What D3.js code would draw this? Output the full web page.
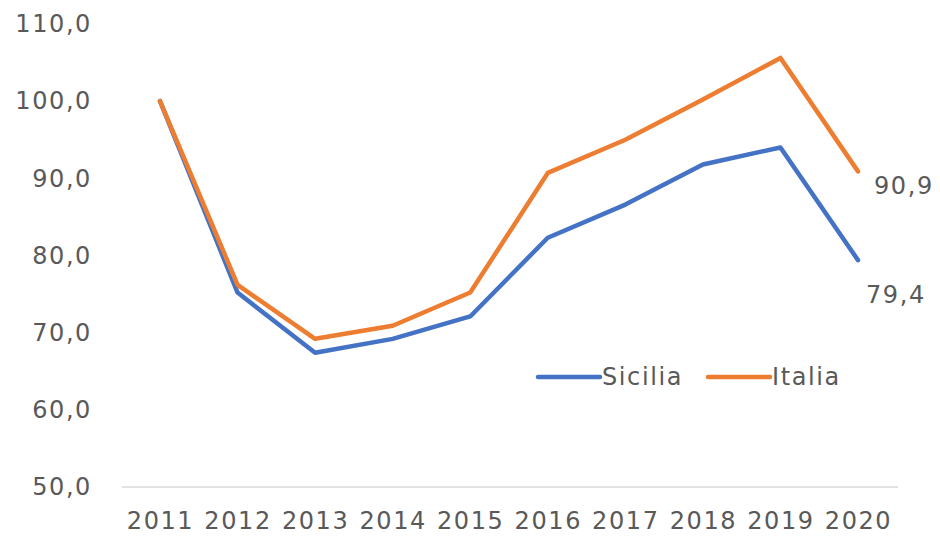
<!DOCTYPE html>
<html>
<head>
<meta charset="utf-8">
<script src="https://cdn.jsdelivr.net/npm/d3@7"></script>
<style>
  body { margin: 0; background: #fff; }
  .axis-label, .legend-label, .end-label {
    font-family: "DejaVu Sans", sans-serif;
    font-size: 24px;
    letter-spacing: 1.6px;
    fill: #595959;
  }
</style>
</head>
<body>
<div id="chart"></div>
<script>
const years = ["2011", "2012", "2013", "2014", "2015", "2016", "2017", "2018", "2019", "2020"]
const sicilia = [100.0, 75.2, 67.4, 69.2, 72.1, 82.3, 86.6, 91.8, 94.0, 79.4]
const italia = [100.0, 76.2, 69.2, 70.9, 75.2, 90.7, 95.0, 100.2, 105.6, 90.9]
const yTicks = [50, 60, 70, 80, 90, 100, 110]
const seriesNames = ["Sicilia", "Italia"]

const colours = { Sicilia: "#4472C4", Italia: "#ED7D31" }
const fmt = v => d3.format(".1f")(v).replace(".", ",")

const dimensions = {
  width: 940,
  height: 545,
  margin: { top: 24, right: 82, bottom: 58, left: 160 }
}
dimensions.boundedWidth = dimensions.width - dimensions.margin.left - dimensions.margin.right
dimensions.boundedHeight = dimensions.height - dimensions.margin.top - dimensions.margin.bottom

const series = [
  { name: "Sicilia", values: sicilia },
  { name: "Italia", values: italia }
]

const xScale = d3.scalePoint()
  .domain(years)
  .range([0, dimensions.boundedWidth])

const yScale = d3.scaleLinear()
  .domain([50, 110])
  .range([dimensions.boundedHeight, 0])

const svg = d3.select("#chart")
  .append("svg")
    .attr("width", dimensions.width)
    .attr("height", dimensions.height)

const bounds = svg.append("g")
  .attr("transform", `translate(${dimensions.margin.left}, ${dimensions.margin.top})`)

// only the base line of the grid is drawn
bounds.append("line")
  .attr("x1", -38)
  .attr("x2", dimensions.boundedWidth + 40)
  .attr("y1", yScale(50))
  .attr("y2", yScale(50))
  .attr("stroke", "#d9d9d9")
  .attr("stroke-width", 1.5)

// y axis labels
const yAxis = bounds.append("g")
  .call(d3.axisLeft(yScale).tickValues(yTicks).tickFormat(fmt).tickSize(0).tickPadding(68))
yAxis.select(".domain").remove()
yAxis.selectAll("text")
  .attr("class", "axis-label")
  .attr("font-size", null)
  .attr("font-family", null)
  .attr("fill", null)

// x axis labels
const xAxis = bounds.append("g")
  .attr("transform", `translate(0, ${dimensions.boundedHeight})`)
  .call(d3.axisBottom(xScale).tickSize(0).tickPadding(25))
xAxis.select(".domain").remove()
xAxis.selectAll("text")
  .attr("class", "axis-label")
  .attr("font-size", null)
  .attr("font-family", null)
  .attr("fill", null)

const line = d3.line()
  .x((d, i) => xScale(years[i]))
  .y(d => yScale(d))

bounds.selectAll(".series-line")
  .data(series)
  .enter().append("path")
  .attr("class", "series-line")
  .attr("d", d => line(d.values))
  .attr("fill", "none")
  .attr("stroke", d => colours[d.name])
  .attr("stroke-width", 4.5)
  .attr("stroke-linejoin", "round")
  .attr("stroke-linecap", "round")

// labels on the last point
const last = years.length - 1
const labelOffsets = { Sicilia: [8, 35], Italia: [16, 15] }
bounds.selectAll(".end-label")
  .data(series)
  .enter().append("text")
  .attr("class", "end-label")
  .attr("x", d => xScale(years[last]) + labelOffsets[d.name][0])
  .attr("y", d => yScale(d.values[last]) + labelOffsets[d.name][1])
  .attr("dominant-baseline", "central")
  .text(d => fmt(d.values[last]))

// legend
const legend = svg.append("g")
  .attr("transform", "translate(538, 377)")
const legendItems = legend.selectAll("g")
  .data(seriesNames)
  .enter().append("g")
  .attr("transform", (d, i) => `translate(${i * 170}, 0)`)
legendItems.append("line")
  .attr("x1", 0)
  .attr("x2", 62)
  .attr("stroke", d => colours[d])
  .attr("stroke-width", 4.5)
  .attr("stroke-linecap", "round")
legendItems.append("text")
  .attr("class", "legend-label")
  .attr("x", 64)
  .attr("dominant-baseline", "central")
  .text(d => d)
</script>
</body>
</html>
